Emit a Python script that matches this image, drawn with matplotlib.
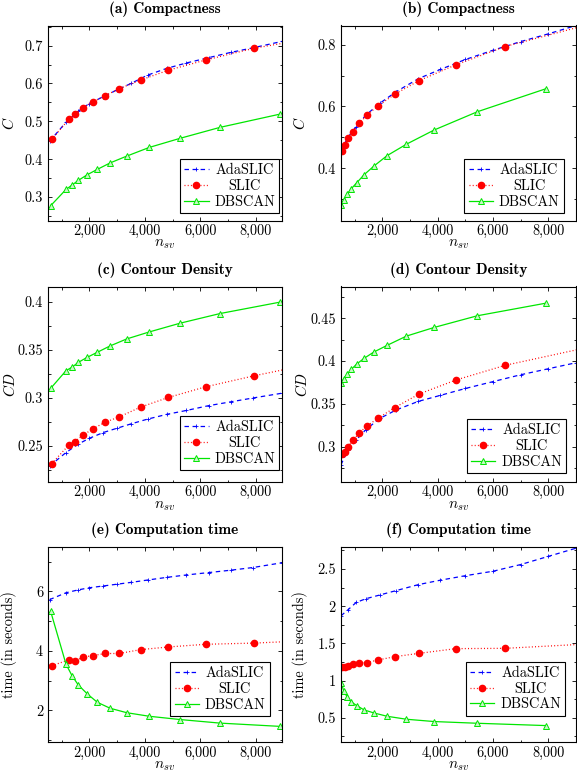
import matplotlib
matplotlib.use('Agg')
import matplotlib.pyplot as plt
from matplotlib.ticker import FixedLocator, MultipleLocator, FixedFormatter
from matplotlib.offsetbox import VPacker

plt.rcParams['font.family'] = ['cmr10', 'DejaVu Serif']
plt.rcParams['mathtext.fontset'] = 'cm'
plt.rcParams['axes.unicode_minus'] = False
plt.rcParams['lines.scale_dashes'] = False

methods = ['AdaSLIC', 'SLIC', 'DBSCAN']

# ---------- left column data ----------
x_ada_L = [560, 1150, 1600, 2000, 2500, 3000, 3500, 4100, 4800, 5500, 6300, 7100, 7900, 8950]
x_slic_L = [640, 1275, 1470, 1770, 2120, 2575, 3070, 3850, 4850, 6200, 7950, 9600]
x_db_L = [600, 1155, 1380, 1600, 1925, 2285, 2745, 3345, 4160, 5270, 6715, 8880]

comp_ada_L = [0.447, 0.497, 0.527, 0.547, 0.565, 0.583, 0.600, 0.622, 0.640, 0.654, 0.668, 0.682, 0.694, 0.711]
comp_slic_L = [0.452, 0.507, 0.519, 0.536, 0.551, 0.568, 0.586, 0.609, 0.635, 0.662, 0.693, 0.714]
comp_db_L = [0.277, 0.320, 0.332, 0.344, 0.359, 0.373, 0.390, 0.408, 0.431, 0.455, 0.484, 0.519]

cd_ada_L = [0.229, 0.243, 0.252, 0.258, 0.264, 0.2685, 0.273, 0.278, 0.283, 0.287, 0.292, 0.296, 0.300, 0.305]
cd_slic_L = [0.2316, 0.2515, 0.2546, 0.2612, 0.2678, 0.2748, 0.2803, 0.2905, 0.3006, 0.3117, 0.3232, 0.333]
cd_db_L = [0.310, 0.3285, 0.3323, 0.3372, 0.3425, 0.3477, 0.3543, 0.3616, 0.3689, 0.378, 0.3881, 0.400]

time_ada_L = [5.72, 5.95, 6.05, 6.12, 6.18, 6.24, 6.30, 6.38, 6.47, 6.55, 6.63, 6.71, 6.80, 6.96]
time_slic_L = [3.50, 3.70, 3.66, 3.79, 3.84, 3.91, 3.91, 4.04, 4.13, 4.22, 4.26, 4.33]
time_db_L = [5.33, 3.55, 3.15, 2.85, 2.55, 2.27, 2.07, 1.92, 1.80, 1.69, 1.57, 1.46]

# ---------- right column data ----------
x_ada_R = [500, 750, 1050, 1400, 1900, 2500, 3300, 4100, 5000, 6000, 7000, 8000, 9000]
x_slic_R = [540, 635, 755, 935, 1165, 1445, 1845, 2450, 3330, 4660, 6440, 9400]
x_db_R = [515, 600, 730, 875, 1070, 1335, 1690, 2170, 2870, 3875, 5435, 7900]

comp_ada_R = [0.455, 0.500, 0.535, 0.572, 0.610, 0.648, 0.690, 0.720, 0.752, 0.782, 0.810, 0.835, 0.862]
comp_slic_R = [0.457, 0.475, 0.499, 0.518, 0.545, 0.573, 0.602, 0.640, 0.684, 0.735, 0.794, 0.864]
comp_db_R = [0.282, 0.297, 0.317, 0.334, 0.353, 0.379, 0.407, 0.441, 0.478, 0.524, 0.583, 0.657]

cd_ada_R = [0.279, 0.296, 0.308, 0.320, 0.333, 0.343, 0.353, 0.360, 0.368, 0.376, 0.384, 0.391, 0.398]
cd_slic_R = [0.2915, 0.2938, 0.300, 0.3074, 0.3163, 0.3244, 0.3334, 0.3458, 0.3616, 0.3779, 0.395, 0.4157]
cd_db_R = [0.3744, 0.3795, 0.3845, 0.3903, 0.3965, 0.4031, 0.4105, 0.4183, 0.4291, 0.4392, 0.4528, 0.4674]

time_ada_R = [1.87, 1.95, 2.05, 2.10, 2.15, 2.21, 2.29, 2.35, 2.41, 2.47, 2.56, 2.67, 2.78]
time_slic_R = [1.183, 1.187, 1.196, 1.227, 1.241, 1.241, 1.277, 1.321, 1.366, 1.429, 1.433, 1.491]
time_db_R = [0.968, 0.860, 0.774, 0.712, 0.663, 0.605, 0.564, 0.519, 0.479, 0.448, 0.425, 0.394]

titles = ['(a) Compactness', '(b) Compactness', '(c) Contour Density',
          '(d) Contour Density', '(e) Computation time', '(f) Computation time']
ylabels = ['$C$', '$C$', '$CD$', '$CD$', 'time (in seconds)', 'time (in seconds)']
xlabel = '$n_{sv}$'

x_ticks = [2000, 4000, 6000, 8000]
x_ticklabels = ['2,000', '4,000', '6,000', '8,000']
y_ticks = [[0.3, 0.4, 0.5, 0.6, 0.7], [0.4, 0.6, 0.8],
           [0.25, 0.3, 0.35, 0.4], [0.3, 0.35, 0.4, 0.45],
           [2, 4, 6], [0.5, 1, 1.5, 2, 2.5]]
y_ticklabels = [['0.3', '0.4', '0.5', '0.6', '0.7'], ['0.4', '0.6', '0.8'],
                ['0.25', '0.3', '0.35', '0.4'], ['0.3', '0.35', '0.4', '0.45'],
                ['2', '4', '6'], ['0.5', '1', '1.5', '2', '2.5']]
y_minor = [0.05, 0.1, 0.025, 0.025, 1, 0.25]
xlims = [(505, 8950), (491, 9000)] * 3
ylims = [(0.238, 0.753), (0.231, 0.862), (0.2127, 0.4163), (0.2593, 0.4869),
         (0.935, 7.49), (0.173, 2.796)]

panels = [
    (x_ada_L, comp_ada_L, x_slic_L, comp_slic_L, x_db_L, comp_db_L),
    (x_ada_R, comp_ada_R, x_slic_R, comp_slic_R, x_db_R, comp_db_R),
    (x_ada_L, cd_ada_L, x_slic_L, cd_slic_L, x_db_L, cd_db_L),
    (x_ada_R, cd_ada_R, x_slic_R, cd_slic_R, x_db_R, cd_db_R),
    (x_ada_L, time_ada_L, x_slic_L, time_slic_L, x_db_L, time_db_L),
    (x_ada_R, time_ada_R, x_slic_R, time_slic_R, x_db_R, time_db_R),
]

# layout (figure fractions)
W, H = 577, 772
col_px = [(48, 282), (340.7, 576)]
row_px = [(25.5, 220.5), (286.5, 481.7), (547, 742)]
legend_anchor = [(0.9885, 0.037), (0.948, 0.038), (0.9885, 0.06), (0.958, 0.043),
                 (0.947, 0.133), (0.954, 0.135)]
ylabel_x = [-0.168, -0.172, -0.162, -0.165, -0.168, -0.172]

fig = plt.figure(figsize=(W / 100, H / 100), dpi=100)

blue, red, green = '#0000ff', '#ff0000', '#00e600'

for i in range(6):
    r, c = divmod(i, 2)
    l, rr = col_px[c]
    t, b = row_px[r]
    ax = fig.add_axes([l / W, 1 - b / H, (rr - l) / W, (b - t) / H])
    xa, ya, xs, ys, xd, yd = panels[i]
    ax.plot(xa, ya, color=blue, lw=0.9, dashes=(3.2, 2.6), marker='+', ms=3.5,
            mew=0.6, label=methods[0])
    ax.plot(xs, ys, color=red, lw=0.9, dashes=(0.7, 1.6), marker='o', ms=4.5,
            mec=red, mfc=red, label=methods[1])
    ax.plot(xd, yd, color=green, lw=0.9, ls='-', marker='^', ms=3.8, mfc='#c8f5c8',
            mec=green, mew=0.7, label=methods[2])
    ax.set_xlim(*xlims[i])
    ax.set_ylim(*ylims[i])
    ax.xaxis.set_major_locator(FixedLocator(x_ticks))
    ax.xaxis.set_major_formatter(FixedFormatter(x_ticklabels))
    ax.xaxis.set_minor_locator(MultipleLocator(1000))
    ax.yaxis.set_major_locator(FixedLocator(y_ticks[i]))
    ax.yaxis.set_major_formatter(FixedFormatter(y_ticklabels[i]))
    ax.yaxis.set_minor_locator(MultipleLocator(y_minor[i]))
    ax.tick_params(which='both', direction='in', top=True, right=True,
                   labelsize=10.3, width=0.6)
    ax.tick_params(which='major', length=3)
    ax.tick_params(which='minor', length=1.8)
    ax.tick_params(axis='x', pad=2.5)
    ax.tick_params(axis='y', pad=3.5)
    for s in ax.spines.values():
        s.set_linewidth(0.8)
    ax.set_title(titles[i], fontfamily='cmb10', fontsize=11, pad=9)
    ax.set_xlabel(xlabel, fontsize=11, va='top')
    ax.xaxis.set_label_coords(0.5, -0.088)
    ax.set_ylabel(ylabels[i], fontsize=11 if i < 4 else 10.3, va='center')
    ax.yaxis.set_label_coords(ylabel_x[i], 0.5)

    leg = ax.legend(loc='lower right', bbox_to_anchor=legend_anchor[i],
                    fontsize=10.3, frameon=True, fancybox=False, framealpha=1,
                    edgecolor='black', borderpad=0.3, labelspacing=0.15,
                    handlelength=1.7, handletextpad=0.4, borderaxespad=0)
    leg.get_frame().set_linewidth(0.8)
    # center the label texts within their column
    renderer = fig.canvas.get_renderer()
    cols = leg._legend_handle_box.get_children()
    rows = [row for col in cols for row in col.get_children()]
    wmax = max(row.get_children()[1].get_bbox(renderer).width for row in rows)
    for row in rows:
        hbox, tbox = row.get_children()
        wrap = VPacker(pad=0, sep=0, width=wmax, align='center', children=[tbox])
        wrap.set_figure(fig)
        row._children = [hbox, wrap]

fig.savefig('out.png', dpi=100)
